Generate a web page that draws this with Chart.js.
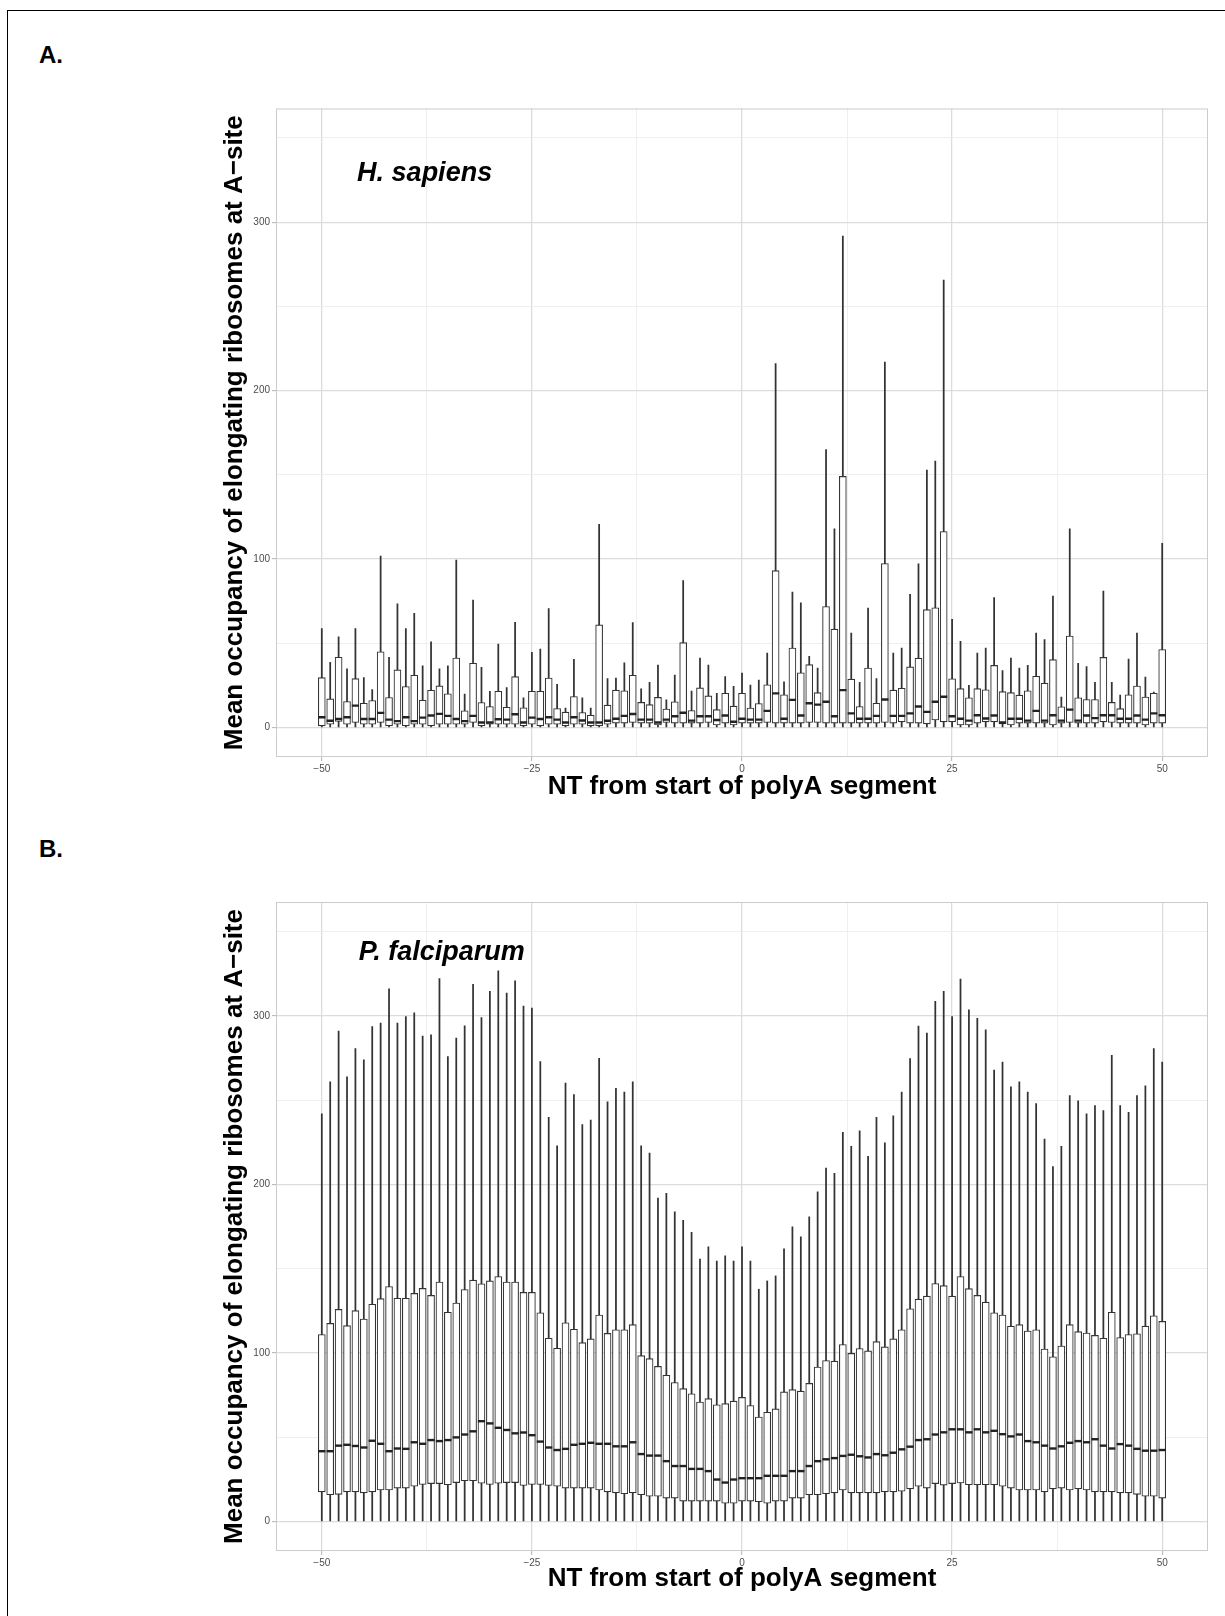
<!DOCTYPE html>
<html><head><meta charset="utf-8">
<script src="https://cdn.jsdelivr.net/npm/chart.js@4.4.0/dist/chart.umd.min.js"></script>
<style>
html,body{margin:0;padding:0;background:#fff;}
body{width:1225px;height:1616px;position:relative;overflow:hidden;font-family:"Liberation Sans",Arial,sans-serif;}
.frame{position:absolute;left:7px;top:10px;width:1300px;height:1700px;border-left:1px solid #000;border-top:1px solid #000;}
.panel-label{position:absolute;left:39px;font-weight:bold;font-size:24px;color:#000;line-height:1;}
.wrap{position:absolute;left:0;width:1225px;height:808px;}
</style></head><body>
<div class="frame"></div>
<div class="panel-label" style="top:43px">A.</div>
<div class="panel-label" style="top:837px">B.</div>
<div class="wrap" style="top:0"><canvas id="chartA"></canvas></div>
<div class="wrap" style="top:808px"><canvas id="chartB"></canvas></div>
<script>
// ---- categories (NT from start of polyA segment) ----
const positions = [-50,-49,-48,-47,-46,-45,-44,-43,-42,-41,-40,-39,-38,-37,-36,-35,-34,-33,-32,-31,-30,-29,-28,-27,-26,-25,-24,-23,-22,-21,-20,-19,-18,-17,-16,-15,-14,-13,-12,-11,-10,-9,-8,-7,-6,-5,-4,-3,-2,-1,0,1,2,3,4,5,6,7,8,9,10,11,12,13,14,15,16,17,18,19,20,21,22,23,24,25,26,27,28,29,30,31,32,33,34,35,36,37,38,39,40,41,42,43,44,45,46,47,48,49,50];

// ---- tick labels ----
const xTickValues = [-50,-37.5,-25,-12.5,0,12.5,25,37.5,50];
const xTickLabels = ['\u221250','','\u221225','','0','','25','','50'];
const yTickValues = [0,50,100,150,200,250,300,350];
const yTickLabels = ['0','','100','','200','','300',''];

// ---- Panel A: H. sapiens ----
const aWhiskerHigh = [58.7,38.7,53.8,34.8,58.7,29.6,22.5,101.8,41.7,73.5,
 58.7,67.8,36.6,50.8,34.8,36.6,99.4,19.8,75.7,35.8,
 21.5,49.6,23.7,62.5,17.6,44.7,46.6,70.6,25.7,11.5,
 40.5,17.6,11.5,120.6,29.0,29.3,38.4,62.3,23.0,26.9,
 37.0,16.4,31.2,87.3,21.6,41.2,37.0,20.3,30.2,24.4,
 32.3,25.2,28.2,44.2,216.0,27.2,80.4,74.1,42.2,35.3,
 165.0,117.9,291.8,56.0,26.9,70.9,29.1,217.0,44.2,47.2,
 79.1,97.2,152.8,158.2,265.7,64.2,51.1,25.0,44.2,47.2,
 77.2,33.8,41.2,35.3,36.9,56.0,52.2,78.0,18.1,117.9,
 38.1,36.2,26.9,81.0,26.9,19.2,40.7,56.0,30.0,21.0,
 109.3];
const aQ3 = [29.6,17.0,41.7,15.4,29.0,14.4,16.0,45.0,17.8,34.2,
 24.3,31.0,16.2,22.1,24.7,20.0,41.3,9.9,38.1,14.8,
 12.5,21.5,12.0,30.2,11.7,21.5,21.5,29.4,11.3,9.1,
 18.4,8.9,7.3,60.9,13.3,22.2,21.8,31.0,14.9,13.6,
 17.9,11.0,15.3,50.4,10.1,23.5,18.8,10.6,20.3,12.7,
 20.3,11.6,14.2,25.4,93.1,19.4,47.2,32.5,37.3,20.7,
 71.8,58.4,149.1,28.7,12.5,35.3,14.4,97.4,22.2,23.3,
 36.0,41.2,70.0,71.1,116.4,28.9,23.1,17.7,23.1,22.4,
 36.9,21.3,20.7,19.2,21.8,30.4,26.3,40.3,12.3,54.3,
 17.7,16.6,16.6,41.6,14.9,11.2,19.4,24.6,18.1,20.3,
 46.3];
const aMedian = [6.1,4.0,5.1,6.1,13.0,5.1,5.1,8.7,4.7,3.8,
 6.1,3.8,5.9,7.1,8.1,6.9,5.1,3.8,6.9,3.0,
 3.0,4.9,4.7,7.9,3.0,5.9,5.1,6.1,4.7,3.0,
 6.1,4.2,3.0,3.0,4.0,5.2,6.9,8.0,4.7,4.7,
 3.0,4.7,6.7,8.8,4.1,6.7,6.7,4.5,7.1,3.4,
 5.2,4.7,4.7,9.9,20.3,5.2,16.4,7.1,14.4,13.6,
 15.3,6.7,22.2,8.4,5.2,5.2,6.9,16.6,6.9,6.9,
 8.4,12.5,9.3,15.3,18.3,6.7,5.2,4.1,7.3,5.4,
 7.1,3.0,5.2,5.2,4.1,9.9,4.1,7.3,4.1,10.6,
 4.1,7.1,5.6,7.3,7.3,5.2,5.2,7.1,4.7,8.4,
 7.3];
const aQ1 = [1.0,2.0,3.6,2.0,3.0,2.0,2.0,3.0,1.0,2.0,
 1.0,2.0,2.0,1.0,2.0,2.0,2.0,2.0,3.0,1.0,
 2.0,2.0,2.0,2.0,1.0,2.0,1.0,2.0,2.0,1.0,
 2.0,2.0,1.0,1.0,2.0,2.6,2.6,3.0,2.6,2.6,
 1.5,3.0,2.6,2.6,2.6,2.6,3.0,1.5,2.6,1.5,
 2.6,2.6,2.6,3.0,2.6,2.6,2.6,2.6,3.0,3.0,
 2.6,2.6,2.6,2.6,2.6,2.6,2.6,3.0,2.6,3.4,
 2.6,2.6,2.2,4.5,3.4,3.4,1.5,1.5,2.6,3.4,
 3.4,2.2,1.5,2.6,2.6,2.6,2.6,1.5,2.6,3.0,
 2.6,2.6,2.6,3.4,3.0,2.6,2.6,2.6,1.5,2.6,
 2.6];
const aWhiskerLow = [0,0,0,0,0,0,0,0,0,0, 0,0,0,0,0,0,0,0,0,0, 0,0,0,0,0,0,0,0,0,0, 0,0,0,0,0,0,0,0,0,0, 0,0,0,0,0,0,0,0,0,0,
 0,0,0,0,0,0,0,0,0,0, 0,0,0,0,0,0,0,0,0,0, 0,0,0,0,0,0,0,0,0,0, 0,0,0,0,0,0,0,0,0,0, 0,0,0,0,0,0,0,0,0,0, 0];

// ---- Panel B: P. falciparum ----
const bWhiskerHigh = [241.9,260.8,290.9,263.8,280.5,273.9,293.6,295.6,316.0,295.6,
 299.6,301.8,288.0,288.7,322.0,275.8,286.8,294.1,318.7,299.0,
 314.5,326.6,313.4,320.7,305.8,304.6,272.8,239.7,222.8,260.1,
 253.3,235.5,238.1,274.8,249.0,256.9,254.7,260.8,222.8,218.6,
 191.8,194.7,183.7,178.7,171.6,155.6,162.9,154.5,157.6,154.5,
 162.9,154.5,137.8,142.7,145.7,161.8,174.8,168.8,180.7,195.6,
 209.7,206.6,230.9,222.6,231.8,216.7,239.7,224.6,240.6,254.7,
 274.6,293.9,289.7,308.6,314.5,299.6,321.8,303.5,298.5,291.7,
 267.8,272.6,257.9,260.8,254.7,247.9,226.8,210.5,222.6,252.6,
 249.5,241.9,246.7,243.7,276.6,246.7,242.8,252.6,258.5,280.5,
 272.6];
const bQ3 = [110.9,117.5,125.8,116.2,125.1,120.1,128.9,132.2,139.4,132.4,
 132.4,135.3,138.3,134.1,142.1,124.1,129.6,137.6,143.2,141.0,
 142.7,145.3,142.1,142.1,135.9,135.9,123.8,108.7,102.8,117.9,
 114.0,106.1,108.3,122.5,111.6,113.7,113.7,116.8,98.4,96.6,
 92.0,86.7,82.4,78.8,75.8,70.9,72.9,69.2,69.9,71.4,
 73.6,68.8,62.0,64.8,66.8,76.9,78.2,77.3,81.9,91.6,
 95.5,95.1,105.0,99.7,102.6,101.2,106.7,103.6,108.3,113.7,
 126.2,131.9,133.7,141.2,139.9,133.7,145.3,138.1,134.1,130.1,
 123.8,122.5,115.9,116.8,113.0,113.7,102.3,97.7,104.1,116.8,
 112.6,111.8,110.4,108.7,124.1,109.1,110.9,111.4,115.9,122.0,
 118.7];
const bMedian = [41.7,41.7,45.0,45.5,44.8,43.9,47.9,46.1,41.7,43.3,
 43.1,47.0,46.1,48.3,47.7,48.3,49.9,51.6,53.5,59.5,
 58.2,55.6,54.3,52.3,52.8,51.2,47.4,43.9,42.4,43.1,
 45.5,46.1,46.7,46.1,46.1,44.6,44.6,47.0,40.0,39.1,
 39.1,35.8,32.9,32.9,31.2,31.2,29.9,24.9,23.1,24.9,
 25.7,25.7,25.7,27.1,27.1,27.1,29.9,29.9,32.9,35.8,
 36.9,37.6,38.9,39.6,38.7,38.0,40.0,39.3,40.8,42.8,
 44.4,48.3,48.8,51.6,52.9,54.7,54.7,52.9,54.7,52.9,
 53.8,51.8,50.5,51.6,47.7,47.0,45.0,43.3,44.6,46.7,
 47.7,47.0,48.8,45.0,43.3,45.9,45.0,43.1,42.0,42.0,
 42.4];
const bQ1 = [17.6,15.9,16.1,17.6,17.6,17.0,17.6,18.7,18.7,19.8,
 19.8,20.9,22.0,22.5,22.5,21.8,23.1,24.2,24.2,22.7,
 22.0,22.7,23.1,23.1,21.4,22.0,22.0,21.4,20.9,19.8,
 19.8,19.8,19.8,18.7,17.6,17.0,16.5,17.0,15.9,15.0,
 15.0,13.9,13.9,12.1,12.1,12.1,12.1,12.1,10.8,10.8,
 12.1,12.1,11.7,10.8,12.1,12.1,13.9,13.9,15.9,15.9,
 16.5,17.0,18.7,17.0,17.0,17.0,17.0,17.6,17.6,18.0,
 19.4,20.9,19.8,22.5,21.6,22.5,22.9,21.8,21.8,21.8,
 21.8,20.9,19.8,18.7,18.7,18.7,17.6,19.4,19.8,18.7,
 19.4,18.7,17.6,17.6,17.6,17.0,17.0,16.1,15.0,15.0,
 13.9];
const bWhiskerLow = [0,0,0,0,0,0,0,0,0,0, 0,0,0,0,0,0,0,0,0,0, 0,0,0,0,0,0,0,0,0,0, 0,0,0,0,0,0,0,0,0,0, 0,0,0,0,0,0,0,0,0,0,
 0,0,0,0,0,0,0,0,0,0, 0,0,0,0,0,0,0,0,0,0, 0,0,0,0,0,0,0,0,0,0, 0,0,0,0,0,0,0,0,0,0, 0,0,0,0,0,0,0,0,0,0, 0];

const FONT = '"Liberation Sans", Arial, Helvetica, sans-serif';
const yTitle = 'Mean occupancy of elongating ribosomes at A\u2212site';
const xTitle = 'NT from start of polyA segment';

const panelPlugin = {
  id: 'panelDecor',
  afterDatasetsDraw(chart, args, opts) {
    const {ctx, chartArea: a, scales: {x, y}} = chart;
    ctx.save();
    ctx.strokeStyle = '#cccccc';
    ctx.lineWidth = 1;
    ctx.strokeRect(a.left + 0.5, a.top + 0.5, a.right - a.left - 1, a.bottom - a.top - 1);
    ctx.font = 'italic bold 27px ' + FONT;
    ctx.fillStyle = '#000';
    ctx.textAlign = 'left';
    ctx.textBaseline = 'middle';
    ctx.fillText(opts.text, x.getPixelForValue(opts.x), y.getPixelForValue(opts.y));
    ctx.restore();
  }
};

function makeChart(id, hi, q3, med, q1, lo, cfg) {
  const boxData = positions.map((p, i) => ({x: p, y: [q1[i], q3[i]]}));
  const whiskerData = positions.map((p, i) => ({x: p, y: [lo[i], hi[i]]}));
  const medianData = positions.map((p, i) => ({x: p, y: med[i]}));
  const isMajorX = c => xTickLabels[c.index] !== '' && xTickLabels[c.index] !== undefined;
  const isMajorY = c => yTickLabels[c.index] !== '' && yTickLabels[c.index] !== undefined;
  return new Chart(document.getElementById(id), {
    type: 'bar',
    data: {
      datasets: [
        {type: 'line', data: medianData, showLine: false, pointStyle: 'line',
         pointRadius: 3.6, pointHoverRadius: 3.6, pointBorderWidth: 2.4, pointHoverBorderWidth: 2.4,
         pointBorderColor: '#222', pointBackgroundColor: '#222', borderColor: '#222', order: 0},
        {type: 'bar', data: boxData, backgroundColor: '#ffffff', borderColor: '#333333',
         borderWidth: 1.1, borderSkipped: false, barThickness: 7, grouped: false, order: 1},
        {type: 'bar', data: whiskerData, backgroundColor: '#333333', borderWidth: 0,
         barThickness: 1.1, grouped: false, order: 2}
      ]
    },
    options: {
      responsive: true, maintainAspectRatio: false, animation: false, devicePixelRatio: 1,
      layout: {padding: {left: 0, right: 17, top: cfg.padTop, bottom: 0}},
      plugins: {legend: {display: false}, tooltip: {enabled: false},
        panelDecor: {text: cfg.species, x: cfg.annX, y: cfg.annY}},
      scales: {
        x: {
          type: 'linear', min: -55.45, max: 55.45, offset: false,
          afterBuildTicks: s => { s.ticks = xTickValues.map(v => ({value: v})); },
          afterFit: s => { s.height = cfg.xAxisHeight; },
          ticks: {autoSkip: false, maxRotation: 0, padding: 2, color: '#4d4d4d',
                  font: {family: FONT, size: 10}, callback: (v, i) => xTickLabels[i]},
          grid: {offset: false, tickLength: 4,
                 color: c => isMajorX(c) ? '#dcdcdc' : '#ebebeb',
                 lineWidth: c => isMajorX(c) ? 1.3 : 0.8,
                 tickColor: c => isMajorX(c) ? '#b3b3b3' : 'rgba(0,0,0,0)', tickWidth: 1},
          border: {display: false},
          title: {display: true, text: xTitle, color: '#000',
                  font: {family: FONT, size: 26, weight: 'bold'},
                  padding: {top: 0, bottom: cfg.xTitlePad}}
        },
        y: {
          type: 'linear', min: -17.5, max: 367.5,
          afterBuildTicks: s => { s.ticks = yTickValues.map(v => ({value: v})); },
          afterFit: s => { s.width = 276; },
          ticks: {autoSkip: false, padding: 2, color: '#4d4d4d',
                  font: {family: FONT, size: 10}, callback: (v, i) => yTickLabels[i]},
          grid: {tickLength: 4,
                 color: c => isMajorY(c) ? '#dcdcdc' : '#ebebeb',
                 lineWidth: c => isMajorY(c) ? 1.3 : 0.8,
                 tickColor: c => isMajorY(c) ? '#b3b3b3' : 'rgba(0,0,0,0)', tickWidth: 1},
          border: {display: false},
          title: {display: true, text: yTitle, color: '#000',
                  font: {family: FONT, size: 26, weight: 'bold'},
                  padding: {top: 219, bottom: 0}}
        }
      }
    },
    plugins: [panelPlugin]
  });
}

makeChart('chartA', aWhiskerHigh, aQ3, aMedian, aQ1, aWhiskerLow,
  {padTop: 108.5, xAxisHeight: 51, xTitlePad: 5.4, species: 'H. sapiens', annX: -45.8, annY: 329});
makeChart('chartB', bWhiskerHigh, bQ3, bMedian, bQ1, bWhiskerLow,
  {padTop: 94, xAxisHeight: 65, xTitlePad: 21.4, species: 'P. falciparum', annX: -45.6, annY: 337.5});
</script>
</body></html>
